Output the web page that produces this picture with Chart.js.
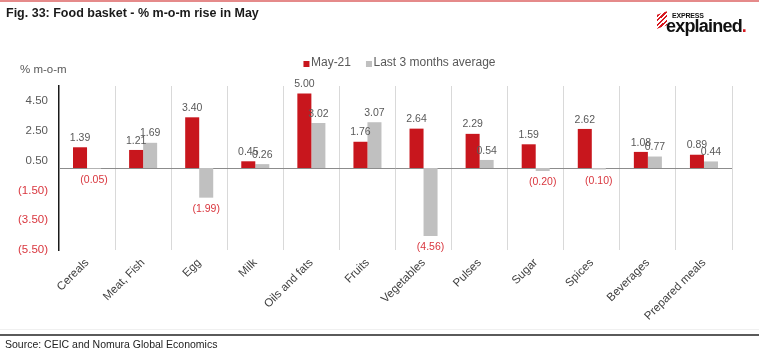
<!DOCTYPE html>
<html><head><meta charset="utf-8">
<script src="https://cdn.jsdelivr.net/npm/chart.js@4.4.0/dist/chart.umd.min.js"></script>
<style>
html,body{margin:0;padding:0;background:#fff;}
body{width:759px;height:351px;position:relative;overflow:hidden;font-family:"Liberation Sans",Arial,sans-serif;}
#wrap{position:absolute;left:0;top:0;width:759px;height:351px;}
.topline{position:absolute;left:0;top:0;width:759px;height:2px;background:#e58a8a;}
.title{position:absolute;left:6px;top:6px;font-weight:bold;font-size:12.5px;color:#1a1a1a;}
.unit{position:absolute;left:20px;top:63px;font-size:11.5px;color:#595959;}
.src{position:absolute;left:5px;top:338px;font-size:10.5px;color:#222;}
.bline{position:absolute;left:0;top:334px;width:759px;height:2px;background:#5a5a5a;}
.fline{position:absolute;left:0;top:329px;width:759px;height:1px;background:#f0f0f0;}
.logo{position:absolute;left:655px;top:9px;width:100px;height:28px;}
.stripes{position:absolute;left:2px;top:4px;width:10px;height:14px;background:repeating-linear-gradient(150deg,#d71920 0 2px,transparent 2px 4px);transform:skewY(-20deg);}
.exp{position:absolute;left:17px;top:3px;font-size:7px;font-weight:bold;color:#111;letter-spacing:-0.2px;}
.expl{position:absolute;left:11px;top:7px;font-size:18px;font-weight:bold;color:#111;letter-spacing:-0.8px;}
.expl span{color:#d71920;}
</style></head>
<body>
<div id="wrap"><canvas id="c" width="759" height="351"></canvas></div>
<div class="topline"></div>
<div class="title">Fig. 33: Food basket - % m-o-m rise in May</div>
<div class="logo"><div class="stripes"></div><div class="exp">EXPRESS</div><div class="expl">explained<span>.</span></div></div>
<div class="unit">% m-o-m</div>
<div class="fline"></div>
<div class="bline"></div>
<div class="src">Source: CEIC and Nomura Global Economics</div>
<script>
const categories = ["Cereals","Meat, Fish","Egg","Milk","Oils and fats","Fruits","Vegetables","Pulses","Sugar","Spices","Beverages","Prepared meals"];
const may21 = [1.39,1.21,3.40,0.45,5.00,1.76,2.64,2.29,1.59,2.62,1.08,0.89];
const last3Avg = [-0.05,1.69,-1.99,0.26,3.02,3.07,-4.56,0.54,-0.20,-0.10,0.77,0.44];
const seriesNames = ["May-21","Last 3 months average"];
const yTicks = [-5.5,-3.5,-1.5,0.5,2.5,4.5];
const yMin = -5.5, yMax = 5.5;

const RED = "#c8161d", GRAY = "#c0c0c0", NEG = "#d9363e", TXT = "#595959";
const FONT = "'Liberation Sans', Arial, sans-serif";
const fmt = v => v < 0 ? "(" + Math.abs(v).toFixed(2) + ")" : v.toFixed(2);

const zeroLine = {
  id: "zeroLine",
  beforeDatasetsDraw(chart) {
    const {ctx, chartArea, scales} = chart;
    const y = Math.round(scales.y.getPixelForValue(0)) + 0.5;
    ctx.save();
    ctx.strokeStyle = "#8c8c8c"; ctx.lineWidth = 1;
    ctx.beginPath(); ctx.moveTo(chartArea.left, y); ctx.lineTo(chartArea.right, y); ctx.stroke();
    ctx.restore();
  }
};
const valLabels = {
  id: "valLabels",
  afterDatasetsDraw(chart) {
    const ctx = chart.ctx;
    ctx.save();
    ctx.font = "10.5px " + FONT;
    ctx.textAlign = "center";
    chart.data.datasets.forEach((ds, i) => {
      chart.getDatasetMeta(i).data.forEach((el, j) => {
        const v = ds.data[j];
        if (v < 0) { ctx.fillStyle = NEG; ctx.textBaseline = "top"; ctx.fillText(fmt(v), el.x, el.y + 6); }
        else { ctx.fillStyle = TXT; ctx.textBaseline = "bottom"; ctx.fillText(fmt(v), el.x, el.y - 4); }
      });
    });
    ctx.restore();
  }
};
const topLegend = {
  id: "topLegend",
  afterDraw(chart) {
    const ctx = chart.ctx, ca = chart.chartArea;
    ctx.save();
    ctx.font = "12px " + FONT;
    ctx.textBaseline = "middle";
    const box = 6, gap = 1.5, itemGap = 15;
    const items = chart.data.datasets.map(d => ({t: d.label, c: d.backgroundColor, w: ctx.measureText(d.label).width}));
    const total = items.reduce((s, it) => s + box + gap + it.w, 0) + itemGap * (items.length - 1);
    let x = (ca.left + ca.right) / 2 + 4 - total / 2;
    const y = 63;
    items.forEach(it => {
      ctx.fillStyle = it.c; ctx.fillRect(x, y - 2, box, box);
      x += box + gap;
      ctx.fillStyle = TXT; ctx.textAlign = "left"; ctx.fillText(it.t, x, y);
      x += it.w + itemGap;
    });
    ctx.restore();
  }
};

new Chart(document.getElementById("c"), {
  type: "bar",
  data: {
    labels: categories,
    datasets: [
      {label: seriesNames[0], data: may21, backgroundColor: RED},
      {label: seriesNames[1], data: last3Avg, backgroundColor: GRAY}
    ]
  },
  options: {
    responsive: false, animation: false,
    layout: {padding: {left: 0, right: 27, top: 86, bottom: 21}},
    datasets: {bar: {categoryPercentage: 0.5, barPercentage: 1.0}},
    plugins: {legend: {display: false}, tooltip: {enabled: false}},
    scales: {
      x: {
        grid: {display: true, offset: true, color: "#d9d9d9", drawTicks: false},
        border: {display: false},
        ticks: {minRotation: 45, maxRotation: 45, color: "#404040", padding: 6,
          font: {family: FONT, size: 11.5}},
        afterFit: s => { s.height = 80; }
      },
      y: {
        min: yMin, max: yMax,
        afterBuildTicks: s => { s.ticks = yTicks.map(v => ({value: v})); },
        grid: {display: false, drawTicks: false},
        border: {display: true, color: "#1a1a1a", width: 1.5},
        ticks: {color: c => c.tick && c.tick.value < 0 ? NEG : TXT, padding: 11,
          font: {family: FONT, size: 11.5},
          callback: v => fmt(v)},
        afterFit: s => { s.width = 59; }
      }
    }
  },
  plugins: [zeroLine, valLabels, topLegend]
});
</script>
</body></html>
